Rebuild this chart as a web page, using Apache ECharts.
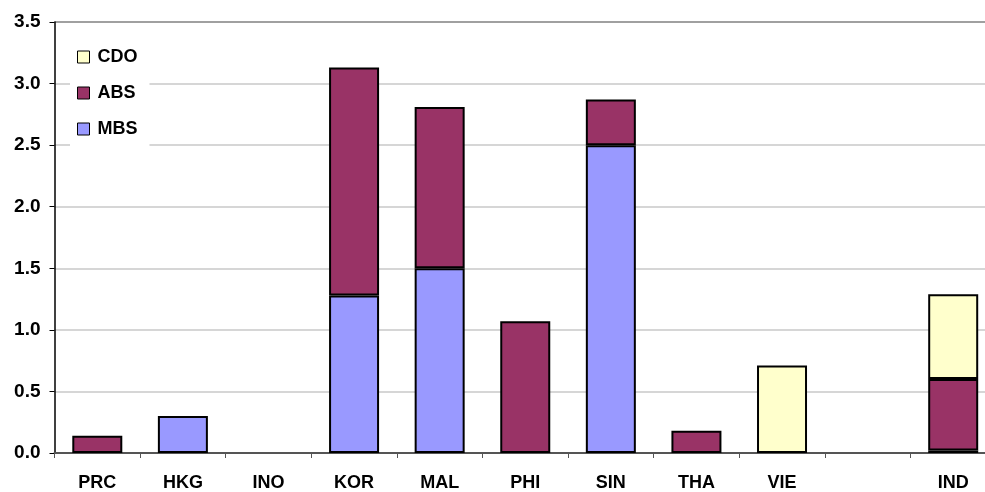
<!DOCTYPE html>
<html>
<head>
<meta charset="utf-8">
<script src="https://cdn.jsdelivr.net/npm/echarts@6/dist/echarts.min.js"></script>
<style>html,body{margin:0;padding:0;background:#fff;overflow:hidden;width:985px;height:492px}#c{width:1000px;height:492px}</style>
</head>
<body>
<div id="c"></div>
<script>
var categories = ['PRC', 'HKG', 'INO', 'KOR', 'MAL', 'PHI', 'SIN', 'THA', 'VIE', '', 'IND'];
var mbs = [null, 0.30, null, 1.28, 1.50, null, 2.50, null, null, null, 0.02];
var abs = [0.14, null, null, 1.85, 1.31, 1.07, 0.37, 0.18, null, null, 0.58];
var cdo = [null, null, null, null, null, null, null, null, 0.71, null, 0.69];
var yTicks = [0, 0.5, 1.0, 1.5, 2.0, 2.5, 3.0, 3.5];

var chart = echarts.init(document.getElementById('c'), null, {renderer: 'canvas'});
var font = 'Liberation Sans, Arial, sans-serif';
var barStyle = function (c) { return {color: c, borderColor: '#000', borderWidth: 2}; };
chart.setOption({
  animation: false,
  backgroundColor: '#fff',
  grid: {left: 54.5, right: 4, top: 22, bottom: 37, containLabel: false},
  legend: {
    orient: 'vertical', left: 70, top: 38,
    backgroundColor: '#fff',
    padding: [10, 12, 10, 7],
    itemGap: 18,
    itemWidth: 12, itemHeight: 12,
    icon: 'rect',
    data: ['CDO', 'ABS', 'MBS'],
    textStyle: {fontFamily: font, fontWeight: 'bold', fontSize: 18, color: '#000', padding: [0, 0, 0, 3]},
    itemStyle: {borderColor: '#000', borderWidth: 1}
  },
  xAxis: {
    type: 'category', data: categories,
    axisLine: {lineStyle: {color: '#555', width: 2}},
    axisTick: {show: true, length: 5, lineStyle: {color: '#555', width: 1}},
    axisLabel: {fontFamily: font, fontWeight: 'bold', fontSize: 18, color: '#000', margin: 21, interval: 0}
  },
  yAxis: {
    type: 'value', min: 0, max: 3.5, interval: 0.5,
    axisLine: {show: true, lineStyle: {color: '#000', width: 1.5}},
    axisTick: {show: true, length: 5, lineStyle: {color: '#000'}},
    axisLabel: {fontFamily: font, fontWeight: 'bold', fontSize: 19, color: '#000', margin: 14,
      formatter: function (v) { return v.toFixed(1); }},
    splitLine: {show: true, lineStyle: {color: yTicks.map(function (t) { return t === 3.5 ? '#808080' : '#c8c8c8'; }), width: 1.5}}
  },
  series: [
    {name: 'MBS', type: 'bar', stack: 's', data: mbs, barWidth: 50, itemStyle: barStyle('#9999ff')},
    {name: 'ABS', type: 'bar', stack: 's', data: abs, barWidth: 50, itemStyle: barStyle('#993366')},
    {name: 'CDO', type: 'bar', stack: 's', data: cdo, barWidth: 50, itemStyle: barStyle('#ffffcc')}
  ]
});
</script>
</body>
</html>
